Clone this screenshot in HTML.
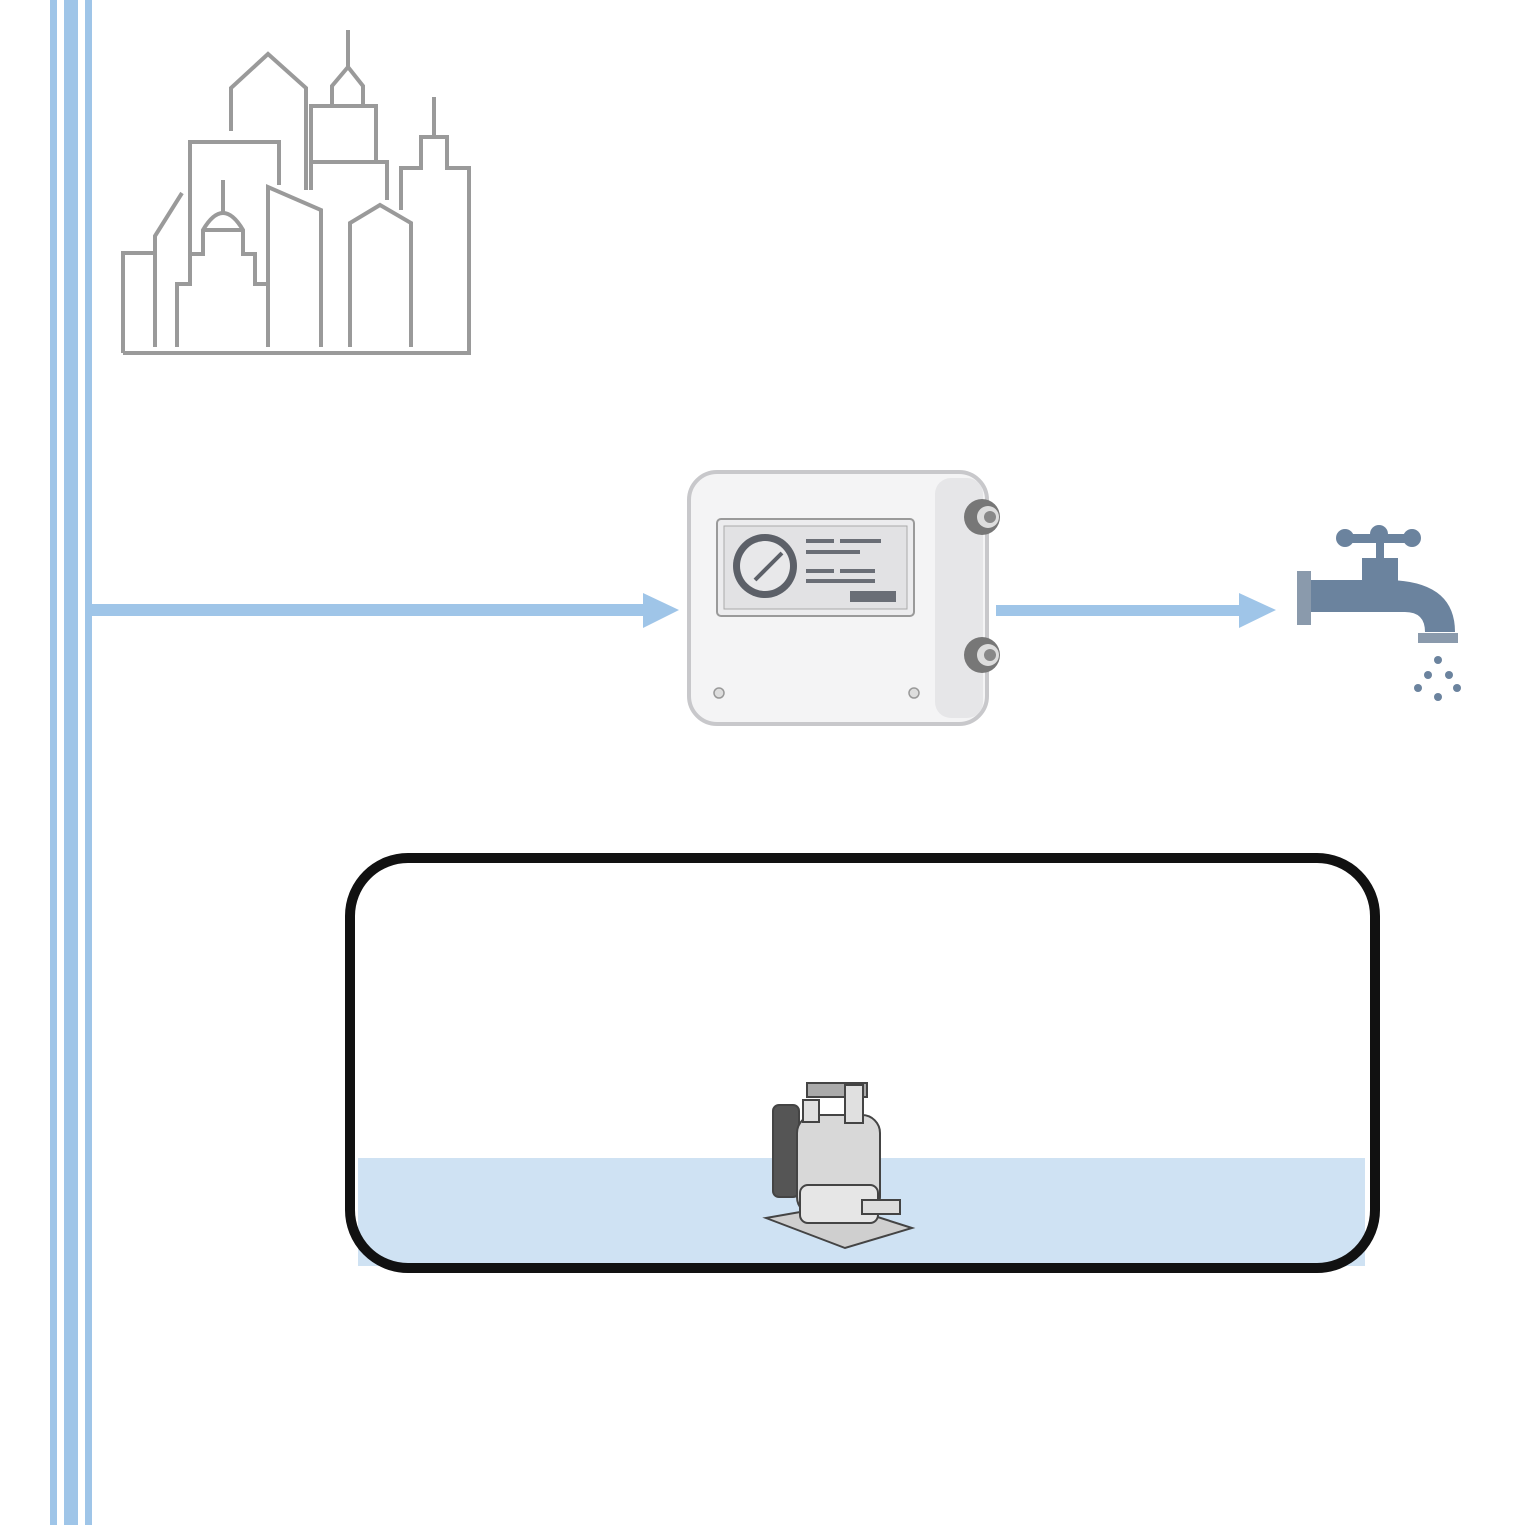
<!DOCTYPE html>
<html><head><style>body{margin:0;background:#fff}svg{display:block}</style></head><body>
<svg width="1525" height="1525" viewBox="0 0 1525 1525" xmlns="http://www.w3.org/2000/svg">
<rect width="1525" height="1525" fill="#fff"/>
<!-- pipes -->
<rect x="50" y="0" width="7" height="1525" fill="#9fc5e8"/>
<rect x="64" y="0" width="14" height="1525" fill="#9fc5e8"/>
<rect x="85" y="0" width="7" height="1525" fill="#9fc5e8"/>
<rect x="90" y="604" width="555" height="12" fill="#9fc5e8"/>
<polygon points="643,593 679,610 643,628" fill="#9fc5e8"/>
<rect x="996" y="605" width="245" height="11" fill="#9fc5e8"/>
<polygon points="1239,593 1276,610 1239,628" fill="#9fc5e8"/>
<!-- city -->
<g fill="none" stroke="#9a9a9a" stroke-width="4">
<path d="M123,353 H469 V168 H447 V137 H434 V97 M434,137 H421 V168 H401 V210"/>
<path d="M123,353 V253 H155 M155,347 V236 L182,193"/>
<path d="M177,347 V284 H190 V254 H203 V230 Q223,196 243,230 V254 H255 V284 H268"/>
<path d="M223,180 V212 M203,230 H243"/>
<path d="M190,254 V142 H279 V185"/>
<path d="M268,347 V187 L321,210 V347"/>
<path d="M231,131 V88 L268,54 L306,88 V190"/>
<path d="M311,190 V162 H387 V200 M311,162 V106 H332 V86 L348,67 L363,86 V106 H376 V162 M348,30 V67 M332,106 H363"/>
<path d="M350,347 V223 L380,205 L411,223 V347"/>
</g>
<!-- meter -->
<g>
<rect x="689" y="472" width="298" height="252" rx="28" fill="#f4f4f5" stroke="#c8c8cb" stroke-width="4"/>
<rect x="935" y="478" width="48" height="240" rx="16" fill="#e6e6e8"/>
<rect x="717" y="519" width="197" height="97" rx="4" fill="#ececee" stroke="#9a9a9a" stroke-width="2"/>
<rect x="724" y="526" width="183" height="83" fill="#e2e2e4" stroke="#aaa" stroke-width="1"/>
<circle cx="765" cy="566" r="32" fill="#5c6068"/>
<circle cx="765" cy="566" r="25" fill="#e8e8ea"/>
<line x1="755" y1="580" x2="782" y2="553" stroke="#5c6068" stroke-width="4"/>
<g fill="#6a6e76"><rect x="806" y="539" width="28" height="4"/><rect x="840" y="539" width="41" height="4"/><rect x="806" y="550" width="54" height="4"/><rect x="806" y="569" width="28" height="4"/><rect x="840" y="569" width="35" height="4"/><rect x="806" y="579" width="69" height="4"/><rect x="850" y="591" width="46" height="11"/></g>
<circle cx="719" cy="693" r="5" fill="#ddd" stroke="#999" stroke-width="1.5"/>
<circle cx="914" cy="693" r="5" fill="#ddd" stroke="#999" stroke-width="1.5"/>
<circle cx="982" cy="517" r="18" fill="#777"/><circle cx="988" cy="517" r="11" fill="#ddd"/><circle cx="990" cy="517" r="6" fill="#888"/>
<circle cx="982" cy="655" r="18" fill="#777"/><circle cx="988" cy="655" r="11" fill="#ddd"/><circle cx="990" cy="655" r="6" fill="#888"/>
</g>
<!-- faucet -->
<g fill="#6b839e">
<rect x="1297" y="571" width="14" height="54" fill="#8a9aac"/>
<path d="M1311,580 H1385 Q1455,580 1455,632 H1425 Q1425,612 1405,612 H1311 Z"/>
<rect x="1362" y="558" width="36" height="24"/>
<rect x="1376" y="535" width="8" height="25"/>
<rect x="1345" y="534" width="70" height="9"/>
<circle cx="1345" cy="538" r="9"/><circle cx="1412" cy="538" r="9"/><circle cx="1379" cy="534" r="9"/>
<rect x="1418" y="633" width="40" height="10" fill="#8a9aac"/>
<circle cx="1438" cy="660" r="4"/><circle cx="1428" cy="675" r="4"/><circle cx="1449" cy="675" r="4"/><circle cx="1418" cy="688" r="4"/><circle cx="1438" cy="697" r="4"/><circle cx="1457" cy="688" r="4"/>
</g>
<!-- tank -->
<rect x="358" y="1158" width="1007" height="108" fill="#cfe2f3"/>
<rect x="350" y="858" width="1025" height="410" rx="58" fill="none" stroke="#111" stroke-width="10"/>
<!-- pump -->
<g stroke="#444" stroke-width="2">
<polygon points="766,1218 845,1248 912,1228 840,1205" fill="#cfcfcf"/>
<rect x="773" y="1105" width="26" height="92" rx="6" fill="#555"/>
<rect x="807" y="1083" width="60" height="14" fill="#aaa"/>
<rect x="797" y="1115" width="83" height="100" rx="18" fill="#d8d8d8"/>
<rect x="800" y="1185" width="78" height="38" rx="8" fill="#e6e6e6"/>
<rect x="862" y="1200" width="38" height="14" fill="#ddd"/>
<rect x="845" y="1085" width="18" height="38" fill="#e0e0e0"/>
<rect x="803" y="1100" width="16" height="22" fill="#e0e0e0"/>
</g>
</svg>
</body></html>
